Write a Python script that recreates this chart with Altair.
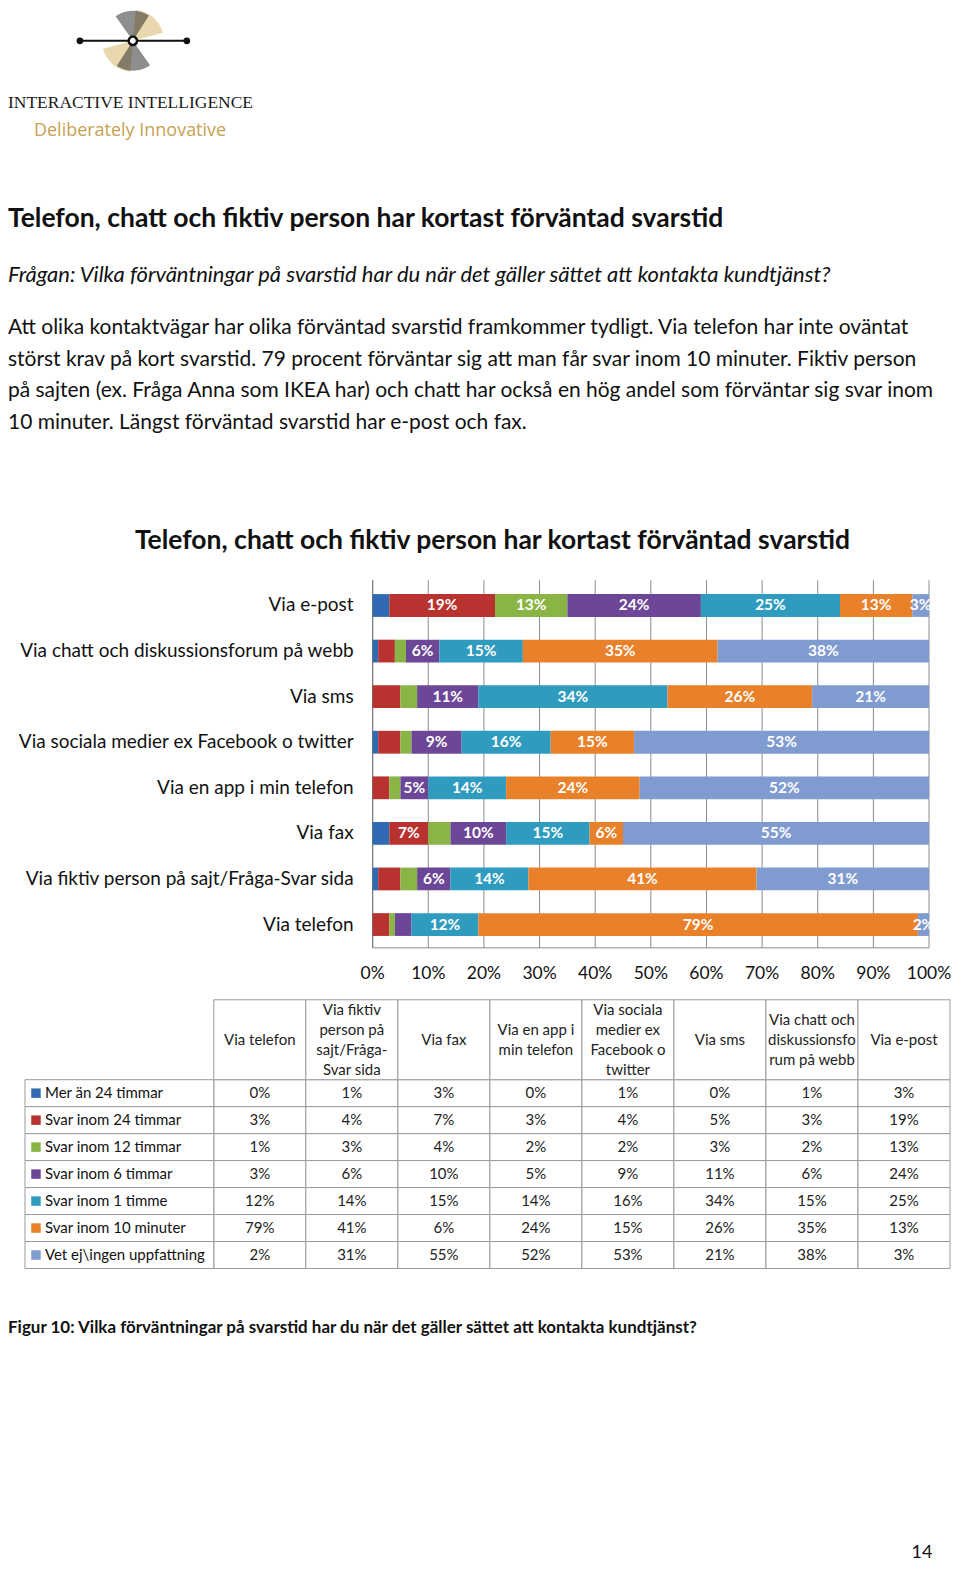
import altair as alt
import pandas as pd

FONT = "Lato"

# ---------------- data ----------------
channels = ["Via telefon", "Via fiktiv person på sajt/Fråga-Svar sida", "Via fax",
            "Via en app i min telefon", "Via sociala medier ex Facebook o twitter",
            "Via sms", "Via chatt och diskussionsforum på webb", "Via e-post"]
header_labels = ["Via telefon", "Via fiktiv\nperson på\nsajt/Fråga-\nSvar sida", "Via fax",
                 "Via en app i\nmin telefon", "Via sociala\nmedier ex\nFacebook o\ntwitter",
                 "Via sms", "Via chatt och\ndiskussionsfo\nrum på webb", "Via e-post"]
series = ["Mer än 24 timmar", "Svar inom 24 timmar", "Svar inom 12 timmar",
          "Svar inom 6 timmar", "Svar inom 1 timme", "Svar inom 10 minuter",
          "Vet ej\\ingen uppfattning"]
mer_an_24 = [0, 1, 3, 0, 1, 0, 1, 3]
inom_24 = [3, 4, 7, 3, 4, 5, 3, 19]
inom_12 = [1, 3, 4, 2, 2, 3, 2, 13]
inom_6 = [3, 6, 10, 5, 9, 11, 6, 24]
inom_1h = [12, 14, 15, 14, 16, 34, 15, 25]
inom_10m = [79, 41, 6, 24, 15, 26, 35, 13]
vet_ej = [2, 31, 55, 52, 53, 21, 38, 3]
colors = ["#3169b2", "#b83230", "#8ab446", "#6d4797", "#2f9cbf", "#e9812a", "#7f9bd0"]
ticks = [0, 10, 20, 30, 40, 50, 60, 70, 80, 90, 100]

heading = "Telefon, chatt och fiktiv person har kortast förväntad svarstid"
question = "Frågan: Vilka förväntningar på svarstid har du när det gäller sättet att kontakta kundtjänst?"
paragraph = [
    "Att olika kontaktvägar har olika förväntad svarstid framkommer tydligt. Via telefon har inte oväntat",
    "störst krav på kort svarstid. 79 procent förväntar sig att man får svar inom 10 minuter. Fiktiv person",
    "på sajten (ex. Fråga Anna som IKEA har) och chatt har också en hög andel som förväntar sig svar inom",
    "10 minuter. Längst förväntad svarstid har e-post och fax.",
]
chart_title = "Telefon, chatt och fiktiv person har kortast förväntad svarstid"
caption = "Figur 10: Vilka förväntningar på svarstid har du när det gäller sättet att kontakta kundtjänst?"
page_no = "14"

all_vals = [mer_an_24, inom_24, inom_12, inom_6, inom_1h, inom_10m, vet_ej]
rows = []
for si, (s, vals) in enumerate(zip(series, all_vals)):
    for c, v in zip(channels, vals):
        rows.append({"channel": c, "series": s, "si": si, "v": v})
df = pd.DataFrame(rows)
one = pd.DataFrame({"a": [0]})
chart_order = list(reversed(channels))
tick_df = pd.DataFrame({"t": ticks, "lab": [f"{t}%" for t in ticks]})

W = 944
color_scale = alt.Scale(domain=series, range=colors)


def txt(s, x, y, size, weight="normal", style="normal", align="left", color="#111", font=FONT):
    return alt.Chart(one).mark_text(
        text=s, align=align, baseline="middle", fontSize=size, fontWeight=weight,
        fontStyle=style, color=color, font=font
    ).encode(x=alt.value(x), y=alt.value(y))


# ---------------- panel 1: header ----------------
cx, cy = 125, 32
gold_top = alt.Chart(one).mark_arc(theta=0.09, theta2=1.31, radius=31, radius2=5,
                                   color="#d4b15c", opacity=0.5).encode(x=alt.value(cx), y=alt.value(cy))
gold_bot = alt.Chart(one).mark_arc(theta=3.23, theta2=4.45, radius=31, radius2=5,
                                   color="#d4b15c", opacity=0.5).encode(x=alt.value(cx), y=alt.value(cy))
black_top = alt.Chart(one).mark_arc(theta=5.67, theta2=6.85, radius=30, radius2=5,
                                    color="#1e1e1e", opacity=0.5).encode(x=alt.value(cx), y=alt.value(cy))
black_bot = alt.Chart(one).mark_arc(theta=2.53, theta2=3.71, radius=30, radius2=5,
                                    color="#1e1e1e", opacity=0.5).encode(x=alt.value(cx), y=alt.value(cy))
axis_line = alt.Chart(one).mark_rule(color="#111", strokeWidth=2).encode(
    x=alt.value(72), x2=alt.value(179), y=alt.value(cy))
dots = alt.Chart(pd.DataFrame({"px": [72, 179]})).mark_point(
    filled=True, color="#111", size=45, opacity=1).encode(
    x=alt.X("px:Q", scale=alt.Scale(domain=[0, W], range=[0, W]), axis=None), y=alt.value(cy))
hub = alt.Chart(one).mark_point(filled=True, fill="white", stroke="#111", strokeWidth=2.5,
                                size=70, opacity=1).encode(x=alt.value(cx), y=alt.value(cy))

header_layers = [gold_top, gold_bot, black_top, black_bot, axis_line, dots, hub,
                 txt("INTERACTIVE INTELLIGENCE", 0, 94, 17.5, font="Liberation Serif", color="#1a1a1a"),
                 txt("Deliberately Innovative", 26, 122, 18, font="Open Sans", color="#c6a152"),
                 txt(heading, 0, 210, 26.5, weight="bold"),
                 txt(question, 0, 266, 22, style="italic")]
for i, line in enumerate(paragraph):
    header_layers.append(txt(line, 0, 319.5 + i * 31.6, 21))
panel1 = alt.layer(*header_layers).properties(width=W, height=460)

# ---------------- panel 2: bar chart ----------------
xs = alt.Scale(domain=[0, 100], range=[365, 922])
ys = alt.Scale(domain=chart_order, range=[114.5, 479.5], paddingInner=0.5, paddingOuter=0.25)

grid = alt.Chart(tick_df).mark_rule(color="#8c8c8c", strokeWidth=1).encode(
    x=alt.X("t:Q", scale=xs, axis=None), y=alt.value(112), y2=alt.value(480))
left_axis = alt.Chart(one).mark_rule(color="#7a7a7a", strokeWidth=1.2).encode(
    x=alt.X(datum=0, scale=xs, axis=None), y=alt.value(112), y2=alt.value(480))
bottom_axis = alt.Chart(one).mark_rule(color="#8c8c8c", strokeWidth=1).encode(
    x=alt.X(datum=0, scale=xs, axis=None), x2=alt.X2(datum=100), y=alt.value(480))

stacked = alt.Chart(df).transform_stack(
    stack="v", groupby=["channel"], sort=[alt.SortField("si", order="ascending")], as_=["x0", "x1"])

bars = stacked.mark_bar(stroke=None).encode(
    x=alt.X("x0:Q", scale=xs, axis=None), x2="x1:Q",
    y=alt.Y("channel:N", scale=ys, axis=None),
    color=alt.Color("series:N", scale=color_scale, legend=None))

labels = stacked.transform_calculate(
    mid="(datum.x0 + datum.x1) / 2", lab="datum.v + '%'"
).transform_filter(
    "datum.v >= 6 || (datum.v >= 5 && datum.si >= 3) || datum.si == 6"
).mark_text(color="white", fontWeight="bold", fontSize=15.5, font=FONT, baseline="middle").encode(
    x=alt.X("mid:Q", scale=xs, axis=None), y=alt.Y("channel:N", scale=ys, axis=None), text="lab:N")

ylabels = alt.Chart(pd.DataFrame({"channel": chart_order})).mark_text(
    align="right", baseline="middle", fontSize=19, font=FONT, color="#111").encode(
    x=alt.value(346), y=alt.Y("channel:N", scale=ys, axis=None), text="channel:N")

xlabels = alt.Chart(tick_df).mark_text(
    align="center", baseline="middle", fontSize=17.5, font=FONT, color="#111").encode(
    x=alt.X("t:Q", scale=xs, axis=None), y=alt.value(506), text="lab:N")

ctitle = txt(chart_title, 485, 73, 26.5, weight="bold", align="center")

panel2 = alt.layer(grid, left_axis, bottom_axis, bars, labels, ylabels, xlabels, ctitle).properties(
    width=W, height=522)

# ---------------- panel 3: data table ----------------
tx = alt.Scale(domain=channels, range=[206, 943], paddingInner=0, paddingOuter=0)
ty = alt.Scale(domain=series, range=[90, 279], paddingInner=0, paddingOuter=0)
grid_col = "#9a9a9a"
TS = 15

cells = alt.Chart(df).mark_rect(fill="white", stroke=grid_col, strokeWidth=1).encode(
    x=alt.X("channel:N", scale=tx, axis=None), y=alt.Y("series:N", scale=ty, axis=None))
hdr_df = pd.DataFrame({"channel": channels, "hdr": header_labels})
hdr_cells = alt.Chart(hdr_df).mark_rect(fill="white", stroke=grid_col, strokeWidth=1).encode(
    x=alt.X("channel:N", scale=tx, axis=None), y=alt.value(10), y2=alt.value(90))
ser_df = pd.DataFrame({"series": series})
lab_cells = alt.Chart(ser_df).mark_rect(fill="white", stroke=grid_col, strokeWidth=1).encode(
    x=alt.value(17), x2=alt.value(206), y=alt.Y("series:N", scale=ty, axis=None))
vals_txt = alt.Chart(df).transform_calculate(lab="datum.v + '%'").mark_text(
    fontSize=TS, font=FONT, color="#222", baseline="middle").encode(
    x=alt.X("channel:N", scale=tx, axis=None), y=alt.Y("series:N", scale=ty, axis=None), text="lab:N")
# header text block centred vertically in the header cell (line height 20)
hdr_txt = alt.Chart(hdr_df).transform_calculate(
    ypix="50 - (split(datum.hdr, '\\n').length - 1) * 10"
).mark_text(
    fontSize=TS, font=FONT, color="#222", baseline="middle", lineBreak="\n", lineHeight=20).encode(
    x=alt.X("channel:N", scale=tx, axis=None), y=alt.Y("ypix:Q", scale=None, axis=None), text="hdr:N")
squares = alt.Chart(ser_df).mark_square(size=90, opacity=1).encode(
    x=alt.value(28), y=alt.Y("series:N", scale=ty, axis=None),
    color=alt.Color("series:N", scale=color_scale, legend=None))
ser_txt = alt.Chart(ser_df).mark_text(
    align="left", baseline="middle", fontSize=TS, font=FONT, color="#111").encode(
    x=alt.value(37), y=alt.Y("series:N", scale=ty, axis=None), text="series:N")

panel3 = alt.layer(cells, hdr_cells, lab_cells, vals_txt, hdr_txt, squares, ser_txt).properties(
    width=W, height=284)

# ---------------- panel 4: footer ----------------
panel4 = alt.layer(
    txt(caption, 0, 55, 17, weight="bold"),
    txt(page_no, 915, 280, 18, align="center"),
).properties(width=W, height=289)

chart = alt.vconcat(panel1, panel2, panel3, panel4, spacing=0).resolve_scale(
    x="independent", y="independent"
).properties(padding=0).configure_view(stroke=None)

chart.save("out.html", embed_options={"renderer": "svg", "actions": False})
